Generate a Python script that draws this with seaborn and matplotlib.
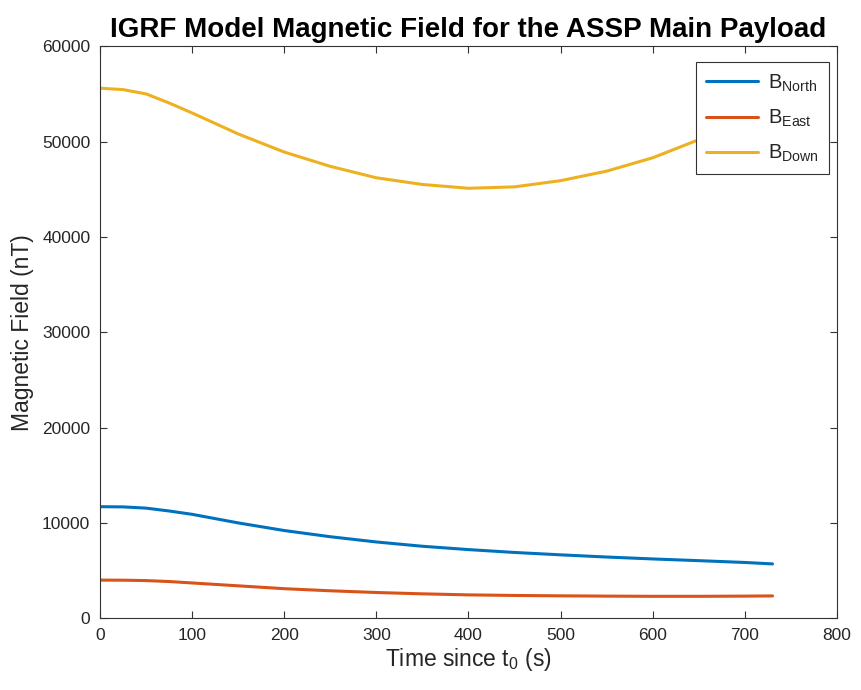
import numpy as np
import pandas as pd
import matplotlib
matplotlib.use('Agg')
import matplotlib.pyplot as plt
import seaborn as sns

# 读图得到的数据
t = [0, 25, 50, 75, 100, 150, 200, 250, 300, 350, 400, 450, 500, 550, 600, 650, 700, 730]
b_north = [11700, 11680, 11550, 11250, 10900, 10000, 9200, 8550, 8000, 7550, 7200, 6900, 6650, 6420, 6220, 6040, 5850, 5700]
b_east = [4000, 3990, 3950, 3850, 3700, 3400, 3100, 2880, 2700, 2560, 2450, 2390, 2350, 2320, 2300, 2300, 2320, 2340]
b_down = [55600, 55450, 55000, 54050, 53000, 50800, 48900, 47400, 46200, 45500, 45100, 45250, 45900, 46900, 48300, 50200, 52400, 53700]

labels = [r'B$_{\mathrm{North}}$', r'B$_{\mathrm{East}}$', r'B$_{\mathrm{Down}}$']
colors = ['#0072BD', '#D95319', '#EDB120']

df = pd.DataFrame({'t': t, labels[0]: b_north, labels[1]: b_east, labels[2]: b_down})
df = df.melt(id_vars='t', var_name='comp', value_name='B')

sns.set_style('ticks')
plt.rcParams['font.family'] = ['Liberation Sans', 'DejaVu Sans']
plt.rcParams['mathtext.fontset'] = 'custom'
plt.rcParams['mathtext.rm'] = 'Liberation Sans'
plt.rcParams['mathtext.it'] = 'Liberation Sans:italic'

fig = plt.figure(figsize=(8.62, 6.9), dpi=100)
ax = fig.add_axes([0.116, 0.104, 0.855, 0.829])

sns.lineplot(data=df, x='t', y='B', hue='comp', palette=colors, linewidth=2.2, ax=ax)

ax.set_xlim(0, 800)
ax.set_ylim(0, 60000)
ax.set_xticks(np.arange(0, 801, 100))
ax.set_yticks(np.arange(0, 60001, 10000))
ax.tick_params(direction='in', top=True, right=True, labelsize=12.5, length=5, pad=7,
               color='#333333', labelcolor='#262626')
for s in ax.spines.values():
    s.set_color('#333333')
    s.set_linewidth(0.8)

ax.set_xlabel(r'Time since t$_0$ (s)', fontsize=16.5, color='#262626', labelpad=2)
ax.set_ylabel('Magnetic Field (nT)', fontsize=16.5, color='#262626', labelpad=6)
ax.set_title('IGRF Model Magnetic Field for the ASSP Main Payload', fontsize=20,
             fontweight='bold', color='black', pad=7)

leg = ax.legend(loc='upper right', bbox_to_anchor=(0.989, 0.972), borderaxespad=0,
                fontsize=14.5, frameon=True, fancybox=False, edgecolor='#333333',
                framealpha=1, handlelength=2.6, labelspacing=0.7, handletextpad=0.5,
                borderpad=0.5)
leg.get_frame().set_linewidth(0.8)

fig.savefig('out.png', dpi=100)
